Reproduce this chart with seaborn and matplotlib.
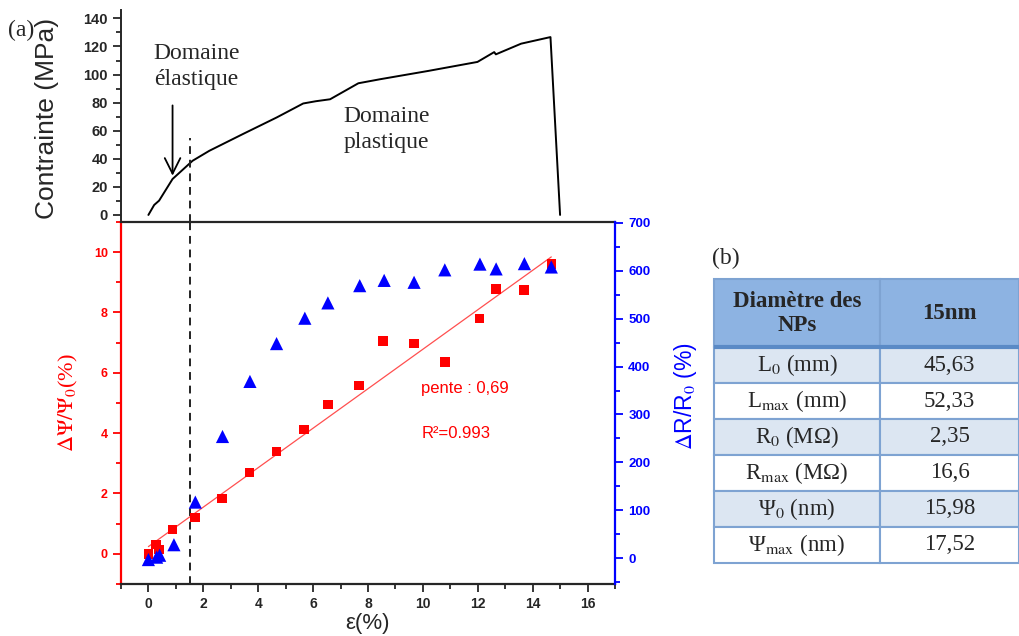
import numpy as np
import seaborn as sns
import matplotlib.pyplot as plt
from matplotlib.ticker import MultipleLocator

# stress-strain curve (top panel)
strain_curve = [0, 0.21, 0.39, 0.88, 1.61, 2.22, 3.44, 4.67, 5.64, 6.1, 6.62, 7.65,
                8.45, 10.2, 11.99, 12.6, 12.66, 13.58, 14.65, 15.0]
stress_curve = [0, 7.1, 10.2, 25.6, 38.6, 45.7, 57.6, 69.4, 79.4, 81.0, 82.4, 93.8,
                96.7, 102.6, 109.0, 116.0, 114.4, 122.0, 126.7, 0]

# relative change of interparticle distance (red squares)
strain_sq = [0, 0.27, 0.39, 0.88, 1.70, 2.68, 3.68, 4.67, 5.67, 6.54, 7.68, 8.55,
             9.67, 10.80, 12.07, 12.67, 13.68, 14.68]
dpsi = [0, 0.31, 0.14, 0.81, 1.20, 1.84, 2.69, 3.40, 4.13, 4.94, 5.57, 7.06,
        6.97, 6.36, 7.80, 8.78, 8.75, 9.61]

# relative change of resistance (blue triangles)
strain_tri = [0, 0.30, 0.41, 0.93, 1.71, 2.70, 3.70, 4.67, 5.70, 6.54, 7.70, 8.59,
              9.68, 10.80, 12.08, 12.67, 13.70, 14.68]
dr = [-3, 2, 6, 28, 117, 254, 369, 448, 501, 533, 569, 580,
      576, 602, 614, 604, 615, 608]

x_elastic = 1.52

# table (b)
tab_header = ['Diamètre des\nNPs', '15nm']
tab_params = ['L$_0$ (mm)', 'L$_{\\mathrm{max}}$ (mm)', 'R$_0$ (MΩ)',
              'R$_{\\mathrm{max}}$ (MΩ)', 'Ψ$_0$ (nm)', 'Ψ$_{\\mathrm{max}}$ (nm)']
tab_values = ['45,63', '52,33', '2,35', '16,6', '15,98', '17,52']

sns.set_style('ticks')
plt.rcParams['font.family'] = ['Liberation Sans', 'DejaVu Sans']
plt.rcParams['mathtext.fontset'] = 'stix'

fig = plt.figure(figsize=(10.19, 6.36), dpi=100)
ax_top = fig.add_axes([0.1187, 0.651, 0.4848, 0.3333])
ax = fig.add_axes([0.1187, 0.0818, 0.4848, 0.5692])
ax2 = ax.twinx()

# ---- top panel
sns.lineplot(x=strain_curve, y=stress_curve, sort=False, color='black', lw=1.4, ax=ax_top)
ax_top.vlines(x_elastic, -5, 55, colors='#222222', linestyles=(0, (4, 3)), lw=1.4)
ax_top.set_xlim(-1, 17)
ax_top.set_ylim(-5, 146)
ax_top.spines['top'].set_visible(False)
ax_top.spines['right'].set_visible(False)
for s in ['left', 'bottom']:
    ax_top.spines[s].set_linewidth(1.4)
ax_top.xaxis.set_major_locator(MultipleLocator(2))
ax_top.xaxis.set_minor_locator(MultipleLocator(1))
ax_top.yaxis.set_major_locator(MultipleLocator(20))
ax_top.yaxis.set_minor_locator(MultipleLocator(10))
ax_top.set_yticks(range(0, 141, 20))
ax_top.tick_params(axis='x', which='both', labelbottom=False, direction='out', width=1.3)
ax_top.tick_params(axis='x', which='major', length=7)
ax_top.tick_params(axis='x', which='minor', length=4)
ax_top.tick_params(axis='y', which='major', length=6, width=1.3, labelsize=10.5)
ax_top.tick_params(axis='y', which='minor', length=3.5, width=1.3)
for lab in ax_top.get_yticklabels():
    lab.set_fontweight('bold')
ax_top.set_ylabel('Contrainte (MPa)', fontsize=19)
ax_top.yaxis.set_label_coords(-0.125, 0.49)

ax_top.annotate('', xy=(0.88, 26), xytext=(0.88, 80),
                arrowprops=dict(arrowstyle='->', lw=1.3, color='black', mutation_scale=28))
ax_top.text(1.76, 106, 'Domaine\nélastique', ha='center', va='center',
            family='Liberation Serif', fontsize=17, linespacing=1.3)
ax_top.text(8.68, 61, 'Domaine\nplastique', ha='center', va='center',
            family='Liberation Serif', fontsize=17, linespacing=1.3)

# ---- bottom panel
sns.regplot(x=strain_sq, y=dpsi, scatter=False, ci=None, color='#ff4f4f',
            line_kws=dict(lw=0.9), ax=ax)
sns.scatterplot(x=strain_sq, y=dpsi, marker='s', color='red', s=46,
                edgecolor='none', ax=ax, zorder=3)
sns.scatterplot(x=strain_tri, y=dr, marker='^', color='blue', s=90,
                edgecolor='none', ax=ax2, zorder=3)
ax.axvline(x_elastic, color='#222222', ls=(0, (4, 3)), lw=1.4)

ax.set_xlim(-1, 17)
ax.set_ylim(-1, 11)
ax2.set_ylim(-54, 702)
ax.xaxis.set_major_locator(MultipleLocator(2))
ax.xaxis.set_minor_locator(MultipleLocator(1))
ax.yaxis.set_major_locator(MultipleLocator(2))
ax.yaxis.set_minor_locator(MultipleLocator(1))
ax.set_yticks(range(0, 11, 2))
ax2.yaxis.set_major_locator(MultipleLocator(100))
ax2.yaxis.set_minor_locator(MultipleLocator(50))
ax2.set_yticks(range(0, 701, 100))

ax.tick_params(axis='x', which='major', length=6, width=1.3, labelsize=10)
ax.tick_params(axis='x', which='minor', length=3.5, width=1.3)
ax.tick_params(axis='y', which='major', length=6, width=1.3, labelsize=9,
               colors='red')
ax.tick_params(axis='y', which='minor', length=3.5, width=1.3, colors='red')
ax2.tick_params(axis='y', which='major', length=6, width=1.3, labelsize=9.5,
                colors='blue')
ax2.tick_params(axis='y', which='minor', length=3.5, width=1.3, colors='blue')
for lab in ax.get_xticklabels() + ax.get_yticklabels() + ax2.get_yticklabels():
    lab.set_fontweight('bold')

for s in ax.spines.values():
    s.set_linewidth(1.6)
ax.spines['left'].set_color('red')
ax.spines['right'].set_visible(False)
ax2.spines['left'].set_visible(False)
ax2.spines['top'].set_visible(False)
ax2.spines['bottom'].set_visible(False)
ax2.spines['right'].set_color('blue')
ax2.spines['right'].set_linewidth(1.6)

ax.set_xlabel('ε(%)', fontsize=16, labelpad=1)
ax.set_ylabel(r'$\Delta\Psi/\Psi_0$(%)', color='red', fontsize=16,
              family='Liberation Serif')
ax.yaxis.set_label_coords(-0.083, 0.5)
ax2.set_ylabel(r'$\Delta$R/R$_0$ (%)', color='blue', fontsize=16.5, rotation=90)
ax2.yaxis.set_label_coords(1.115, 0.52)

ax.text(9.94, 5.47, 'pente : 0,69', color='red', fontsize=12, va='center')
ax.text(9.94, 4.0, 'R²=0.993', color='red', fontsize=12, va='center')

# ---- labels (a), (b)
fig.text(0.008, 1 - 30 / 636, '(a)', va='center', family='Liberation Serif', fontsize=17)
fig.text(712 / 1019, 1 - 258 / 636, '(b)', va='center', family='Liberation Serif', fontsize=17)

# ---- table
tab_ax = fig.add_axes([0.7007, 0.1153, 0.2993, 0.4456])
tab_ax.axis('off')
rows = [[p, v] for p, v in zip(tab_params, tab_values)]
tbl = tab_ax.table(cellText=rows, colLabels=tab_header, cellLoc='center',
                   colWidths=[0.544, 0.456], bbox=[0, 0, 1, 1])
tbl.auto_set_font_size(False)
head_h, row_h = 68, 36
for (r, c), cell in tbl.get_celld().items():
    cell.set_edgecolor('#7ea3d2')
    cell.set_linewidth(1.5)
    txt = cell.get_text()
    txt.set_fontfamily('Liberation Serif')
    txt.set_fontsize(16.5)
    if r == 0:
        cell.set_height(head_h)
        cell.set_facecolor('#8db3e2')
        txt.set_fontweight('bold')
    else:
        cell.set_height(row_h)
        cell.set_facecolor('#dce6f2' if r % 2 == 1 else 'white')
tab_ax.axhline(1 - head_h / (head_h + row_h * len(rows)), color='#5a8ac6', lw=3)

fig.savefig('out.png', dpi=100)
